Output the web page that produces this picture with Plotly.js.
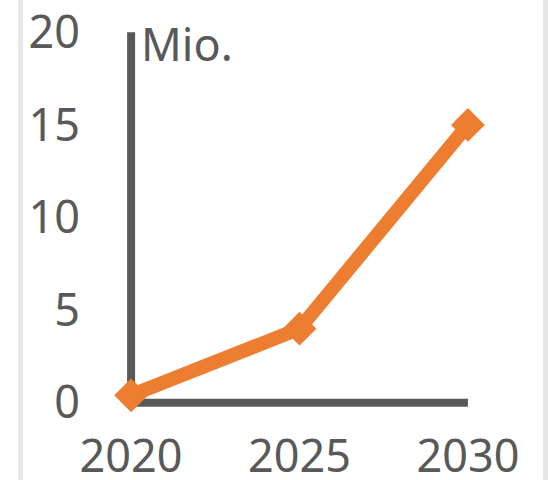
<!DOCTYPE html>
<html>
<head>
<meta charset="utf-8">
<script src="https://cdn.plot.ly/plotly-3.0.1.min.js"></script>
<style>
  html, body { margin: 0; padding: 0; background: #ffffff; }
  /* thin grey frame bands at the left and right edges */
  body {
    width: 548px; height: 480px; overflow: hidden;
    background:
      linear-gradient(to right,
        #ffffff 0px, #ffffff 18px,
        #e7e7e7 18px, #e7e7e7 23px,
        #ffffff 23px, #ffffff 543px,
        #e7e7e7 543px, #e7e7e7 548px);
  }
  #chart { width: 548px; height: 480px; }
</style>
</head>
<body>
<div id="chart"></div>
<script>
// Series: values in millions per year
const years = [2020, 2025, 2030];
const values = [0.4, 4.0, 15.0];

// Axis ticks
const xTickVals = [2020, 2025, 2030];
const xTickText = ['2020', '2025', '2030'];
const yTickVals = [0, 5, 10, 15, 20];
const yTickText = ['0', '5', '10', '15', '20'];

const unitLabel = 'Mio.';

const grey = '#595959';
const orange = '#ED7D31';
const fontFamily = '"Noto Sans", "Open Sans", sans-serif';

const xMin = xTickVals[0], xMax = xTickVals[xTickVals.length - 1];
const yMin = yTickVals[0], yMax = yTickVals[yTickVals.length - 1];
// small padding so the heavy axis strokes are not clipped at the plot edge
const xPad = 0.3, yPad = 0.5;

const trace = {
  x: years,
  y: values,
  type: 'scatter',
  mode: 'lines+markers',
  line: { color: orange, width: 14 },
  marker: { symbol: 'diamond', size: 26, color: orange },
  cliponaxis: false,
  hoverinfo: 'skip'
};

const layout = {
  width: 548,
  height: 480,
  margin: { l: 121, r: 70, t: 23, b: 68, pad: 0 },
  paper_bgcolor: 'rgba(0,0,0,0)',
  plot_bgcolor: 'rgba(0,0,0,0)',
  showlegend: false,
  font: { family: fontFamily, size: 45, color: grey },
  xaxis: {
    range: [xMin - xPad, xMax + xPad],
    tickmode: 'array',
    tickvals: xTickVals,
    ticktext: xTickText,
    showgrid: false,
    zeroline: false,
    showline: false,
    ticks: '',
    ticklabelstandoff: 14,
    tickfont: { family: fontFamily, size: 45, color: grey },
    fixedrange: true
  },
  yaxis: {
    range: [yMin - yPad, yMax + yPad],
    tickmode: 'array',
    tickvals: yTickVals,
    ticktext: yTickText,
    showgrid: false,
    zeroline: false,
    showline: false,
    ticks: '',
    ticklabelstandoff: 40,
    tickfont: { family: fontFamily, size: 45, color: grey },
    fixedrange: true
  },
  // heavy axis lines meeting at the origin of the data range
  shapes: [
    { type: 'line', xref: 'x', yref: 'y', x0: xMin, x1: xMax, y0: yMin, y1: yMin,
      line: { color: grey, width: 8 }, layer: 'below' },
    { type: 'line', xref: 'x', yref: 'y', x0: xMin, x1: xMin, y0: yMin, y1: yMax,
      line: { color: grey, width: 8 }, layer: 'below' }
  ],
  annotations: [
    { text: unitLabel, xref: 'x', yref: 'y', x: xMin, y: yMax,
      xanchor: 'left', yanchor: 'top', showarrow: false, xshift: 8, yshift: 21,
      font: { family: fontFamily, size: 45, color: grey } }
  ]
};

Plotly.newPlot('chart', [trace], layout, { staticPlot: true, displayModeBar: false });
</script>
</body>
</html>
